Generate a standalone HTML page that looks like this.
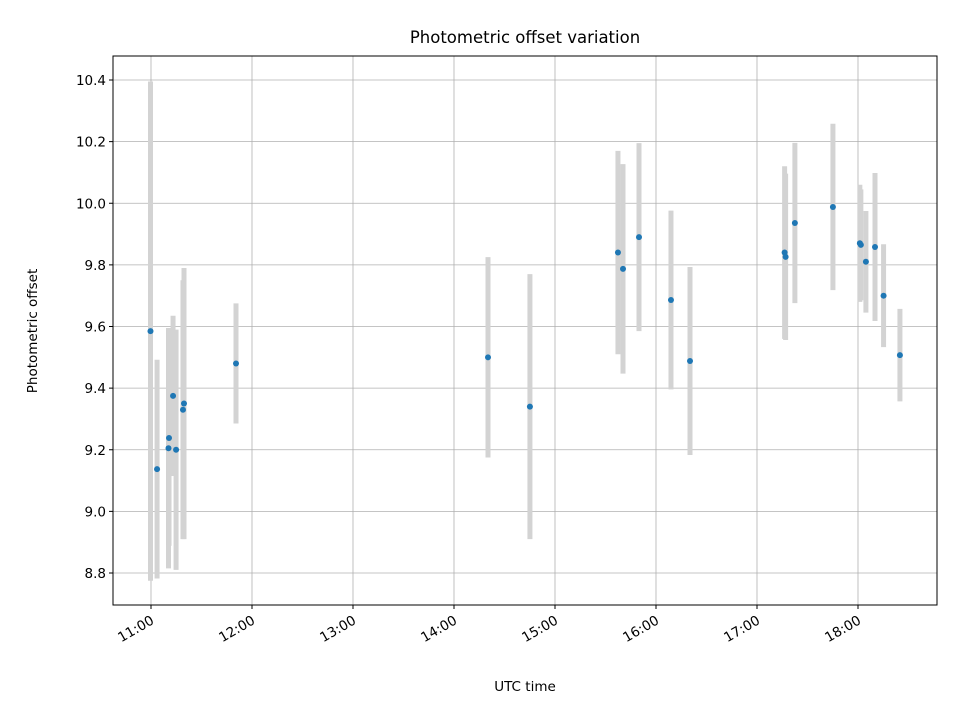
<!DOCTYPE html>
<html><head><meta charset="utf-8"><style>
body{margin:0;background:#fff}
svg text{font-family:"DejaVu Sans","Liberation Sans",sans-serif}
</style></head><body>
<svg id="c" width="960" height="720" xmlns="http://www.w3.org/2000/svg">
<rect width="960" height="720" fill="#fff"/>
<text x="525" y="43" style="font-size:16.5px" text-anchor="middle">Photometric offset variation</text>
<text x="525" y="691" style="font-size:13.5px" text-anchor="middle">UTC time</text>
<text transform="translate(37,331) rotate(-90)" style="font-size:13.5px" text-anchor="middle">Photometric offset</text>
<g id="grid"></g><g id="bars"></g><g id="pts"></g><g id="ticks"></g>
<rect x="113" y="56" width="824" height="549" fill="none" stroke="#000" stroke-width="1"/>
</svg>
<script>
// minutes after 11:00 UTC
const times=[-0.3,3.6,10.4,10.7,13.1,14.9,19.0,19.6,50.5,200.2,225.1,277.4,280.4,289.9,308.9,320.2,376.4,377.0,382.5,405.1,421.1,421.7,424.7,430.1,435.2,444.9];
const offsets=[9.585,9.137,9.205,9.238,9.375,9.2,9.33,9.35,9.48,9.50,9.34,9.84,9.787,9.89,9.686,9.488,9.84,9.826,9.936,9.988,9.87,9.865,9.81,9.858,9.70,9.507];
const errors=[0.81,0.355,0.39,0.35,0.26,0.39,0.42,0.44,0.195,0.325,0.43,0.33,0.34,0.305,0.29,0.305,0.28,0.27,0.26,0.27,0.19,0.18,0.165,0.24,0.167,0.15];
const yTicks=[8.8,9.0,9.2,9.4,9.6,9.8,10.0,10.2,10.4];
const xTickLabels=["11:00","12:00","13:00","14:00","15:00","16:00","17:00","18:00"];
const NS="http://www.w3.org/2000/svg";
const L=113,R=937,T=56,B=605;
const xs=m=>151+m*101/60;
const ys=v=>80+(10.4-v)*308.125;
function mk(tag,at,parent){const e=document.createElementNS(NS,tag);for(const k in at)e.setAttribute(k,at[k]);document.getElementById(parent).appendChild(e);return e;}
yTicks.forEach(v=>{const y=ys(v);
 const g=mk('line',{x1:L,x2:R,y1:y,y2:y,stroke:'#b0b0b0','stroke-width':0.8},'grid');
 
 
 mk('line',{x1:L-4,x2:L,y1:y,y2:y,stroke:'#000'},'ticks');
 const t=mk('text',{x:L-7,y:y+5,style:'font-size:13.5px','text-anchor':'end'},'ticks');
 t.textContent=v.toFixed(1);
 
 
});
xTickLabels.forEach((s,i)=>{const x=xs(i*60);
 const g=mk('line',{x1:x,x2:x,y1:T,y2:B,stroke:'#b0b0b0','stroke-width':0.8},'grid');
 
 
 mk('line',{x1:x,x2:x,y1:B,y2:B+4,stroke:'#000'},'ticks');
 const t=mk('text',{transform:`translate(${x+4},${B+18}) rotate(-30)`,style:'font-size:13.5px','text-anchor':'end'},'ticks');
 t.textContent=s;
 
 
});
times.forEach((m,i)=>{const x=xs(m);
 const b=mk('line',{x1:x,x2:x,y1:ys(offsets[i]+errors[i]),y2:ys(offsets[i]-errors[i]),stroke:'#d3d3d3','stroke-width':5},'bars');
 
 
 const c=mk('circle',{cx:x,cy:ys(offsets[i]),r:3,fill:'#1f77b4'},'pts');
 
 
});
</script>
</body></html>
